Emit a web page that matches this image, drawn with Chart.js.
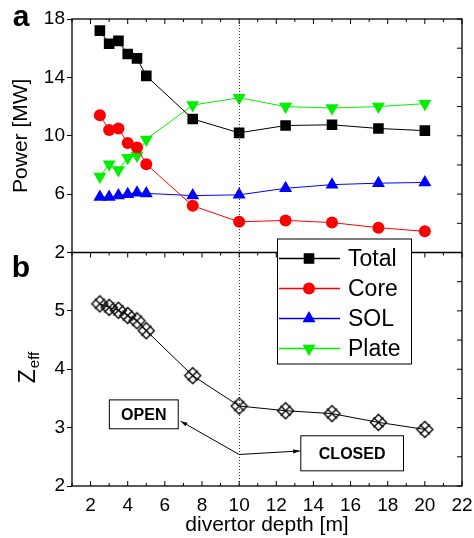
<!DOCTYPE html>
<html>
<head>
<meta charset="utf-8">
<script src="https://cdn.jsdelivr.net/npm/chart.js@4.4.0/dist/chart.umd.min.js"></script>
<style>
  body { margin: 0; background: #fff; }
  canvas { display: block; }
</style>
</head>
<body>
<canvas id="myChart" width="474" height="538"></canvas>
<script>
// divertor depth [m]
var depth = [2.5, 3, 3.5, 4, 4.5, 5, 7.5, 10, 12.5, 15, 17.5, 20];
// power [MW]
var total = [17.2, 16.3, 16.5, 15.6, 15.3, 14.1, 11.15, 10.2, 10.7, 10.75, 10.5, 10.35];
var core  = [11.4, 10.4, 10.5, 9.5, 9.2, 8.05, 5.2, 4.1, 4.2, 4.05, 3.7, 3.45];
var sol   = [5.8, 5.8, 5.9, 6.0, 6.1, 6.05, 5.9, 5.95, 6.4, 6.65, 6.75, 6.8];
var plate = [7.2, 8.05, 7.65, 8.5, 8.65, 9.75, 12.1, 12.6, 12.0, 11.9, 12.0, 12.2];
// Z_eff
var zeff  = [5.12, 5.06, 5.01, 4.92, 4.83, 4.66, 3.89, 3.37, 3.29, 3.24, 3.09, 2.97];

var seriesNames = ['Total', 'Core', 'SOL', 'Plate'];

var FONT = 'Liberation Sans, Arial, sans-serif';

function toPoints(xs, ys) {
  var pts = [];
  for (var i = 0; i < xs.length; i++) {
    pts.push({x: xs[i], y: ys[i]});
  }
  return pts;
}

// diamond with a cross through it, used for Z_eff
function crossDiamond(r) {
  var c = document.createElement('canvas');
  var s = 2 * r + 3;
  c.width = s; c.height = s;
  var g = c.getContext('2d');
  var m = Math.floor(s / 2) + 0.5;
  var h = Math.round(r * 0.62);
  g.strokeStyle = '#000';
  g.lineWidth = 1.4;
  g.beginPath();
  g.moveTo(m, m - r); g.lineTo(m + r, m); g.lineTo(m, m + r); g.lineTo(m - r, m); g.closePath();
  g.moveTo(m - h, m - h); g.lineTo(m + h, m + h);
  g.moveTo(m + h, m - h); g.lineTo(m - h, m + h);
  g.stroke();
  return c;
}

function markerPath(ctx, style, rot, r, x, y) {
  ctx.beginPath();
  if (style == 'rect') {
    var s = r * Math.SQRT1_2;
    ctx.rect(x - s, y - s, 2 * s, 2 * s);
  } else if (style == 'circle') {
    ctx.arc(x, y, r, 0, Math.PI * 2);
  } else {
    var d = rot == 180 ? -1 : 1;
    ctx.moveTo(x, y - d * r);
    ctx.lineTo(x + r * 0.866, y + d * r * 0.5);
    ctx.lineTo(x - r * 0.866, y + d * r * 0.5);
    ctx.closePath();
  }
}

var decor = {
  id: 'decor',
  afterDraw: function (chart) {
    var ctx = chart.ctx;
    var ca = chart.chartArea;
    var xs = chart.scales.x, yP = chart.scales.yP, yZ = chart.scales.yZ;
    var mid = yP.bottom;
    ctx.save();

    // dotted line at 10 m
    ctx.strokeStyle = '#333';
    ctx.lineWidth = 1;
    ctx.setLineDash([1, 2]);
    ctx.beginPath();
    ctx.moveTo(Math.round(xs.getPixelForValue(10)) + 0.5, ca.top);
    ctx.lineTo(Math.round(xs.getPixelForValue(10)) + 0.5, ca.bottom);
    ctx.stroke();
    ctx.setLineDash([]);

    // frame
    ctx.strokeStyle = '#000';
    ctx.lineWidth = 1.3;
    ctx.strokeRect(ca.left, ca.top, ca.right - ca.left, ca.bottom - ca.top);
    ctx.beginPath();
    ctx.moveTo(ca.left, mid); ctx.lineTo(ca.right, mid);
    ctx.stroke();

    // inner ticks: top, middle, bottom, right
    ctx.lineWidth = 1;
    ctx.beginPath();
    for (var v = 1; v <= 22; v++) {
      var px = xs.getPixelForValue(v);
      var len = v % 2 == 0 ? 5 : 3;
      ctx.moveTo(px, ca.top); ctx.lineTo(px, ca.top + len);
      ctx.moveTo(px, mid); ctx.lineTo(px, mid + len);
      ctx.moveTo(px, ca.bottom); ctx.lineTo(px, ca.bottom - len);
    }
    for (var p = 2; p <= 18; p += 2) {
      var py = yP.getPixelForValue(p);
      ctx.moveTo(ca.right, py); ctx.lineTo(ca.right - 5, py);
    }
    for (var z = 2; z <= 6; z += 0.5) {
      var pz = yZ.getPixelForValue(z);
      ctx.moveTo(ca.right, pz); ctx.lineTo(ca.right - 5, pz);
    }
    ctx.stroke();

    // OPEN / CLOSED annotation
    var vx = xs.getPixelForValue(10), vy = yZ.getPixelForValue(2.54);
    var ox = xs.getPixelForValue(6.85), oy = yZ.getPixelForValue(3.11);
    var cx = xs.getPixelForValue(13.27), cy = yZ.getPixelForValue(2.6);
    ctx.beginPath();
    ctx.moveTo(ox, oy); ctx.lineTo(vx, vy); ctx.lineTo(cx, cy);
    ctx.stroke();
    function head(x0, y0, x1, y1) {
      var a = Math.atan2(y1 - y0, x1 - x0);
      ctx.beginPath();
      ctx.moveTo(x1, y1);
      ctx.lineTo(x1 - 7 * Math.cos(a - 0.3), y1 - 7 * Math.sin(a - 0.3));
      ctx.lineTo(x1 - 7 * Math.cos(a + 0.3), y1 - 7 * Math.sin(a + 0.3));
      ctx.closePath();
      ctx.fillStyle = '#000';
      ctx.fill();
    }
    head(vx, vy, ox, oy);
    head(vx, vy, cx, cy);

    function box(x0, y0, x1, y1, text) {
      var l = xs.getPixelForValue(x0), r = xs.getPixelForValue(x1);
      var t = yZ.getPixelForValue(y0), b = yZ.getPixelForValue(y1);
      ctx.fillStyle = '#fff';
      ctx.fillRect(l, t, r - l, b - t);
      ctx.strokeStyle = '#000';
      ctx.lineWidth = 1;
      ctx.strokeRect(l, t, r - l, b - t);
      ctx.fillStyle = '#000';
      ctx.font = 'bold 16px ' + FONT;
      ctx.textAlign = 'center';
      ctx.textBaseline = 'middle';
      ctx.fillText(text, (l + r) / 2, (t + b) / 2 + 1);
    }
    box(3.01, 3.475, 6.72, 2.98, 'OPEN');
    box(13.32, 2.86, 18.85, 2.26, 'CLOSED');

    // legend
    var lx = ca.left + 205, ly = mid - 14, lw = 134, lh = 125;
    ctx.fillStyle = '#fff';
    ctx.fillRect(lx, ly, lw, lh);
    ctx.strokeStyle = '#000';
    ctx.lineWidth = 1;
    ctx.strokeRect(lx + 0.5, ly + 0.5, lw, lh);
    ctx.font = '23px ' + FONT;
    ctx.textAlign = 'left';
    ctx.textBaseline = 'middle';
    for (var i = 0; i < 4; i++) {
      var ds = chart.data.datasets[i];
      var ry = ly + 20 + i * 30;
      ctx.strokeStyle = ds.borderColor;
      ctx.lineWidth = 1.5;
      ctx.beginPath();
      ctx.moveTo(lx + 2, ry); ctx.lineTo(lx + 63, ry);
      ctx.stroke();
      ctx.fillStyle = ds.backgroundColor;
      markerPath(ctx, ds.pointStyle, ds.pointRotation || 0, ds.pointRadius, lx + 32, ry);
      ctx.fill();
      ctx.fillStyle = '#000';
      ctx.fillText(seriesNames[i], lx + 71, ry + 1);
    }

    // panel letters
    ctx.font = 'bold 30px ' + FONT;
    ctx.textAlign = 'center';
    ctx.fillStyle = '#000';
    ctx.fillText('a', 21, 18);
    ctx.fillText('b', 21, 269);

    // Z_eff axis title
    ctx.save();
    ctx.translate(35, (yZ.top + yZ.bottom) / 2 + 14);
    ctx.rotate(-Math.PI / 2);
    ctx.textBaseline = 'alphabetic';
    ctx.textAlign = 'left';
    ctx.font = '23px ' + FONT;
    ctx.fillText('Z', 0, 0);
    var zw = ctx.measureText('Z').width;
    ctx.font = '15px ' + FONT;
    ctx.fillText('eff', zw + 1, 4);
    ctx.restore();

    ctx.restore();
  }
};

var tickFont = {family: FONT, size: 19};

var ctx = document.getElementById('myChart').getContext('2d');
window.myChart = new Chart(ctx, {
  type: 'line',
  data: {
    datasets: [{
      label: 'Total',
      data: toPoints(depth, total),
      yAxisID: 'yP',
      borderColor: '#000',
      backgroundColor: '#000',
      pointStyle: 'rect',
      pointRadius: 7.5
    }, {
      label: 'Core',
      data: toPoints(depth, core),
      yAxisID: 'yP',
      borderColor: '#ff0000',
      backgroundColor: '#ff0000',
      pointStyle: 'circle',
      pointRadius: 6
    }, {
      label: 'SOL',
      data: toPoints(depth, sol),
      yAxisID: 'yP',
      borderColor: '#0000ff',
      backgroundColor: '#0000ff',
      pointStyle: 'triangle',
      pointRadius: 7.5
    }, {
      label: 'Plate',
      data: toPoints(depth, plate),
      yAxisID: 'yP',
      borderColor: '#00f000',
      backgroundColor: '#00f000',
      pointStyle: 'triangle',
      pointRotation: 180,
      pointRadius: 7.5
    }, {
      label: 'Zeff',
      data: toPoints(depth, zeff),
      yAxisID: 'yZ',
      borderColor: '#000',
      backgroundColor: '#000',
      pointStyle: crossDiamond(8),
      pointRadius: 8
    }]
  },
  options: {
    responsive: false,
    animation: false,
    layout: { padding: { top: 19, right: 12, left: 0, bottom: 0 } },
    elements: {
      line: { borderWidth: 1, tension: 0 },
      point: { borderWidth: 0, hoverRadius: 7 }
    },
    plugins: {
      legend: { display: false },
      tooltip: { enabled: false }
    },
    scales: {
      x: {
        type: 'linear',
        min: 1,
        max: 22,
        grid: { display: false },
        border: { display: false },
        ticks: {
          stepSize: 1,
          autoSkip: false,
          maxRotation: 0,
          padding: 0,
          color: '#000',
          font: tickFont,
          callback: function (v) { return v % 2 == 0 ? v : ''; }
        },
        title: {
          display: true,
          text: 'divertor depth [m]',
          color: '#000',
          font: {family: FONT, size: 21},
          padding: {top: 0, bottom: 0}
        },
        afterFit: function (s) { s.height = 52; }
      },
      yP: {
        type: 'linear',
        position: 'left',
        stack: 'panels',
        stackWeight: 1,
        weight: 1,
        min: 2,
        max: 18,
        grid: { drawOnChartArea: false, tickLength: 5, color: '#000' },
        border: { display: false },
        ticks: {
          stepSize: 2,
          padding: 2,
          color: '#000',
          font: tickFont,
          callback: function (v) { return (v - 2) % 4 == 0 ? v : ''; }
        },
        title: {
          display: true,
          text: 'Power [MW]',
          color: '#000',
          font: {family: FONT, size: 21},
          padding: {top: 9, bottom: 0}
        },
        afterFit: function (s) { s.width = 72; }
      },
      yZ: {
        type: 'linear',
        position: 'left',
        stack: 'panels',
        stackWeight: 1,
        weight: 0,
        min: 2,
        max: 6,
        grid: { drawOnChartArea: false, tickLength: 5, color: '#000' },
        border: { display: false },
        ticks: {
          stepSize: 0.5,
          padding: 2,
          color: '#000',
          font: tickFont,
          callback: function (v) { return (Number.isInteger(v) && v < 6) ? v : ''; }
        },
        afterFit: function (s) { s.width = 72; }
      }
    }
  },
  plugins: [decor]
});
</script>
</body>
</html>
